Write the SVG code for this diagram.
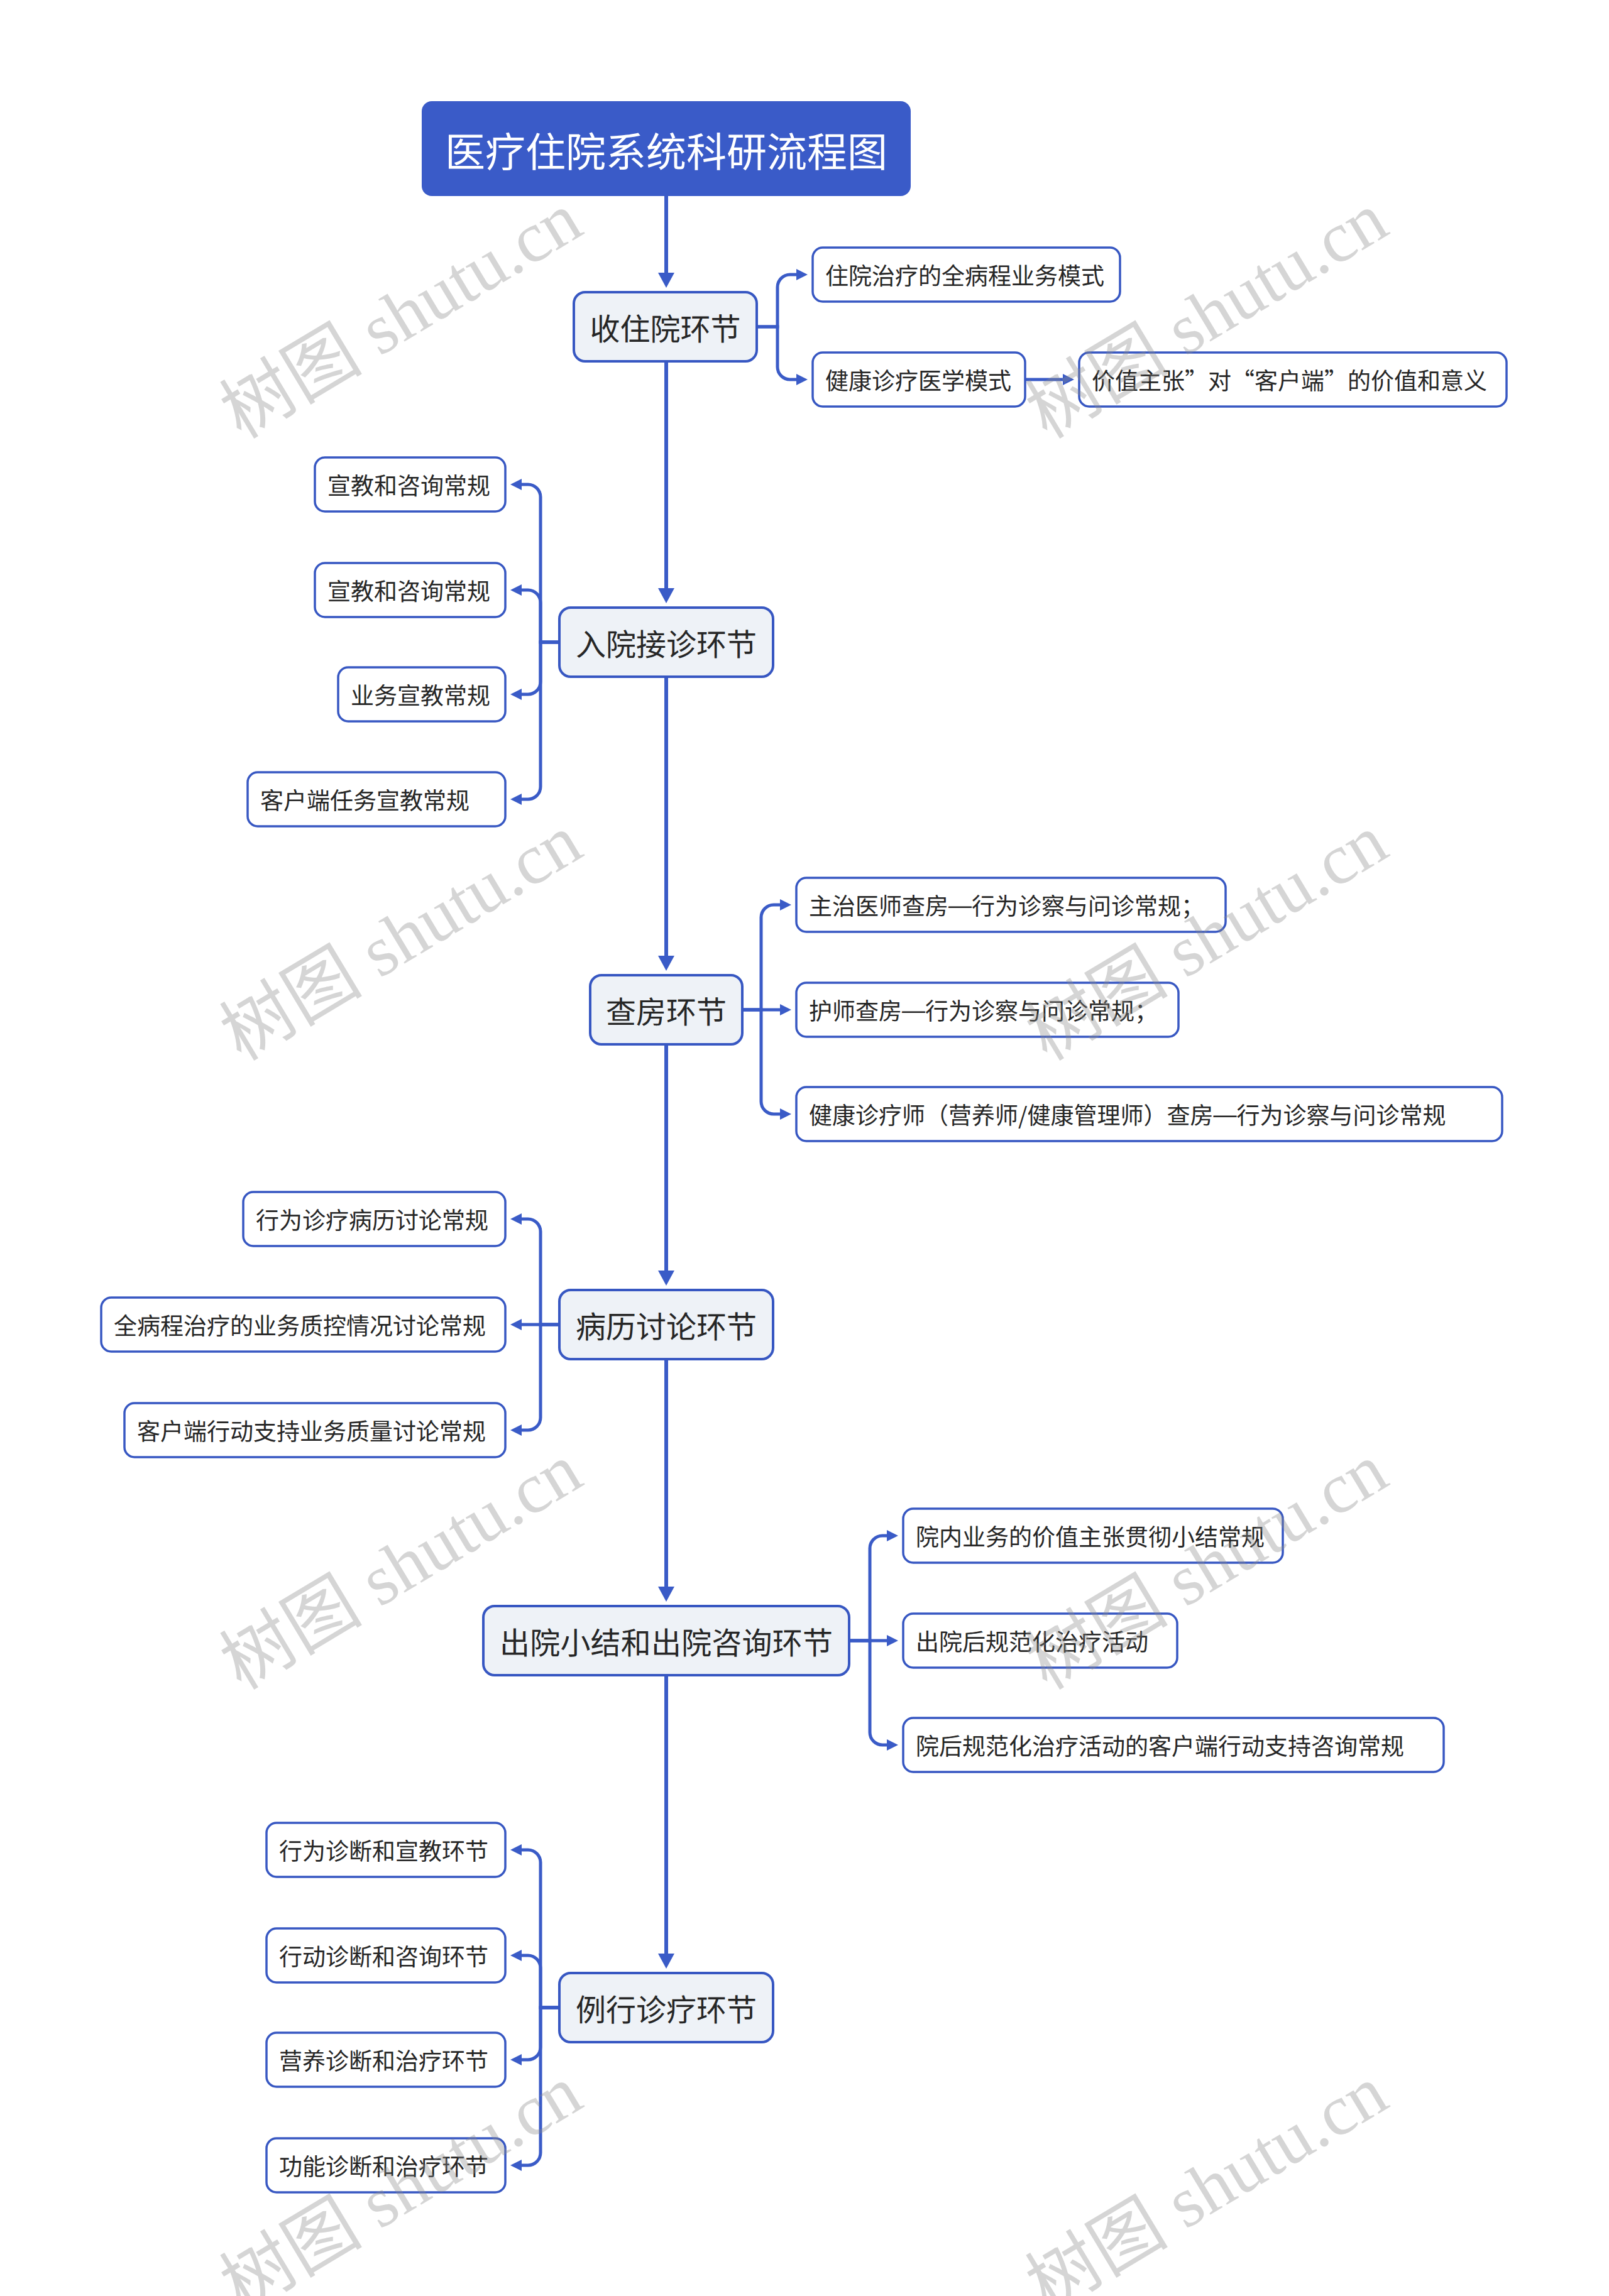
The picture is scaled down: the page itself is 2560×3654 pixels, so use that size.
<svg xmlns="http://www.w3.org/2000/svg" width="2560" height="3654" viewBox="0 0 2560 3654">
<style>
.t{font-family:"Noto Sans CJK SC","Noto Sans",sans-serif;fill:#262626;dominant-baseline:central}
.mt{font-size:48px;text-anchor:middle}
.ct{font-size:37px}
.dash{font-family:"Liberation Sans",sans-serif}
.main rect{fill:#eef2f7;stroke:#3757c2;stroke-width:4}
.child rect{fill:#ffffff;stroke:#3757c2;stroke-width:3.5}
.spine{fill:none;stroke:#3a5bc7;stroke-width:6;marker-end:url(#big)}
.br{fill:none;stroke:#3a5bc7;stroke-width:5;marker-end:url(#small)}
.wm{font-family:"Liberation Serif","Noto Sans CJK SC",serif;font-size:114px;fill:#8a8a8a;fill-opacity:0.36;text-anchor:middle}
</style>
<defs>
<marker id="big" viewBox="0 0 24 26" refX="1" refY="13" markerUnits="userSpaceOnUse" markerWidth="24" markerHeight="26" orient="auto"><path d="M0,0 L24,13 L0,26 Z" fill="#3a5bc7"/></marker>
<marker id="small" viewBox="0 0 18 18" refX="1" refY="9" markerUnits="userSpaceOnUse" markerWidth="18" markerHeight="18" orient="auto"><path d="M0,0 L18,9 L0,18 Z" fill="#3a5bc7"/></marker>
</defs>
<rect width="2560" height="3654" fill="#ffffff"/>

<g id="connectors">
<path class="spine" d="M1060,312 V435"/>
<path class="spine" d="M1060,575 V937"/>
<path class="spine" d="M1060,1077 V1522"/>
<path class="spine" d="M1060,1662 V2023"/>
<path class="spine" d="M1060,2163 V2526"/>
<path class="spine" d="M1060,2666 V3110"/>

<path class="br" d="M1204,520 H1237 V457 A20,20 0 0 1 1257,437 H1268"/>
<path class="br" d="M1204,520 H1237 V584 A20,20 0 0 0 1257,604 H1268"/>
<path class="br" d="M1631,604 H1692"/>

<path class="br" d="M890,1022 H860 V791 A20,20 0 0 0 840,771 H829"/>
<path class="br" d="M890,1022 H860 V959 A20,20 0 0 0 840,939 H829"/>
<path class="br" d="M890,1022 H860 V1085 A20,20 0 0 1 840,1105 H829"/>
<path class="br" d="M890,1022 H860 V1252 A20,20 0 0 1 840,1272 H829"/>

<path class="br" d="M1181,1607 H1211 V1460 A20,20 0 0 1 1231,1440 H1242"/>
<path class="br" d="M1181,1607 H1242"/>
<path class="br" d="M1181,1607 H1211 V1753 A20,20 0 0 0 1231,1773 H1242"/>

<path class="br" d="M890,2108 H860 V1960 A20,20 0 0 0 840,1940 H829"/>
<path class="br" d="M890,2108 H829"/>
<path class="br" d="M890,2108 H860 V2256 A20,20 0 0 1 840,2276 H829"/>

<path class="br" d="M1351,2611 H1384 V2464 A20,20 0 0 1 1404,2444 H1412"/>
<path class="br" d="M1351,2611 H1412"/>
<path class="br" d="M1351,2611 H1384 V2757 A20,20 0 0 0 1404,2777 H1412"/>

<path class="br" d="M890,3195 H860 V2964 A20,20 0 0 0 840,2944 H829"/>
<path class="br" d="M890,3195 H860 V3132 A20,20 0 0 0 840,3112 H829"/>
<path class="br" d="M890,3195 H860 V3258 A20,20 0 0 1 840,3278 H829"/>
<path class="br" d="M890,3195 H860 V3426 A20,20 0 0 1 840,3446 H829"/>
</g>

<g id="title"><rect x="671" y="161" width="778" height="151" rx="16" fill="#3a5bc8"/><text class="t" x="1060" y="237" font-size="64" text-anchor="middle" style="fill:#ffffff">医疗住院系统科研流程图</text></g>

<g id="n1" class="main"><rect x="913" y="465" width="291" height="110" rx="18"/><text class="t mt" x="1058.5" y="520">收住院环节</text></g>
<g id="n2" class="main"><rect x="890" y="967" width="340" height="110" rx="18"/><text class="t mt" x="1060" y="1022">入院接诊环节</text></g>
<g id="n3" class="main"><rect x="939" y="1552" width="242" height="110" rx="18"/><text class="t mt" x="1060" y="1607">查房环节</text></g>
<g id="n4" class="main"><rect x="890" y="2053" width="340" height="110" rx="18"/><text class="t mt" x="1060" y="2108">病历讨论环节</text></g>
<g id="n5" class="main"><rect x="769" y="2556" width="582" height="110" rx="18"/><text class="t mt" x="1060" y="2611" textLength="530" lengthAdjust="spacing">出院小结和出院咨询环节</text></g>
<g id="n6" class="main"><rect x="890" y="3140" width="340" height="110" rx="18"/><text class="t mt" x="1060" y="3195">例行诊疗环节</text></g>

<g id="c1a" class="child"><rect x="1293" y="394" width="489" height="86" rx="16"/><text class="t ct" x="1313" y="437">住院治疗的全病程业务模式</text></g>
<g id="c1b" class="child"><rect x="1293" y="561" width="338" height="86" rx="16"/><text class="t ct" x="1313" y="604">健康诊疗医学模式</text></g>
<g id="c1c" class="child"><rect x="1717" y="561" width="680" height="86" rx="16"/><text class="t ct" x="1737" y="604">价值主张”对“客户端”的价值和意义</text></g>

<g id="c2a" class="child"><rect x="501" y="728" width="303" height="86" rx="16"/><text class="t ct" x="521" y="771">宣教和咨询常规</text></g>
<g id="c2b" class="child"><rect x="501" y="896" width="303" height="86" rx="16"/><text class="t ct" x="521" y="939">宣教和咨询常规</text></g>
<g id="c2c" class="child"><rect x="538" y="1062" width="266" height="86" rx="16"/><text class="t ct" x="558" y="1105">业务宣教常规</text></g>
<g id="c2d" class="child"><rect x="394" y="1229" width="410" height="86" rx="16"/><text class="t ct" x="414" y="1272">客户端任务宣教常规</text></g>

<g id="c3a" class="child"><rect x="1267" y="1397" width="683" height="86" rx="16"/><text class="t ct" x="1287" y="1440">主治医师查房<tspan class="dash">—</tspan>行为诊察与问诊常规；</text></g>
<g id="c3b" class="child"><rect x="1267" y="1564" width="608" height="86" rx="16"/><text class="t ct" x="1287" y="1607">护师查房<tspan class="dash">—</tspan>行为诊察与问诊常规；</text></g>
<g id="c3c" class="child"><rect x="1267" y="1730" width="1123" height="86" rx="16"/><text class="t ct" x="1287" y="1773">健康诊疗师（营养师/健康管理师）查房<tspan class="dash">—</tspan>行为诊察与问诊常规</text></g>

<g id="c4a" class="child"><rect x="387" y="1897" width="417" height="86" rx="16"/><text class="t ct" x="407" y="1940">行为诊疗病历讨论常规</text></g>
<g id="c4b" class="child"><rect x="161" y="2065" width="643" height="86" rx="16"/><text class="t ct" x="181" y="2108">全病程治疗的业务质控情况讨论常规</text></g>
<g id="c4c" class="child"><rect x="198" y="2233" width="606" height="86" rx="16"/><text class="t ct" x="218" y="2276">客户端行动支持业务质量讨论常规</text></g>

<g id="c5a" class="child"><rect x="1437" y="2401" width="604" height="86" rx="16"/><text class="t ct" x="1457" y="2444">院内业务的价值主张贯彻小结常规</text></g>
<g id="c5b" class="child"><rect x="1437" y="2568" width="436" height="86" rx="16"/><text class="t ct" x="1457" y="2611">出院后规范化治疗活动</text></g>
<g id="c5c" class="child"><rect x="1437" y="2734" width="860" height="86" rx="16"/><text class="t ct" x="1457" y="2777">院后规范化治疗活动的客户端行动支持咨询常规</text></g>

<g id="c6a" class="child"><rect x="424" y="2901" width="380" height="86" rx="16"/><text class="t ct" x="444" y="2944">行为诊断和宣教环节</text></g>
<g id="c6b" class="child"><rect x="424" y="3069" width="380" height="86" rx="16"/><text class="t ct" x="444" y="3112">行动诊断和咨询环节</text></g>
<g id="c6c" class="child"><rect x="424" y="3235" width="380" height="86" rx="16"/><text class="t ct" x="444" y="3278">营养诊断和治疗环节</text></g>
<g id="c6d" class="child"><rect x="424" y="3403" width="380" height="86" rx="16"/><text class="t ct" x="444" y="3446">功能诊断和治疗环节</text></g>

<g id="watermarks">
<text class="wm" transform="translate(658,535) rotate(-31)">树图 shutu.cn</text>
<text class="wm" transform="translate(1940,535) rotate(-31)">树图 shutu.cn</text>
<text class="wm" transform="translate(658,1525) rotate(-31)">树图 shutu.cn</text>
<text class="wm" transform="translate(1940,1525) rotate(-31)">树图 shutu.cn</text>
<text class="wm" transform="translate(658,2526) rotate(-31)">树图 shutu.cn</text>
<text class="wm" transform="translate(1940,2526) rotate(-31)">树图 shutu.cn</text>
<text class="wm" transform="translate(658,3516) rotate(-31)">树图 shutu.cn</text>
<text class="wm" transform="translate(1940,3516) rotate(-31)">树图 shutu.cn</text>
</g>
</svg>
